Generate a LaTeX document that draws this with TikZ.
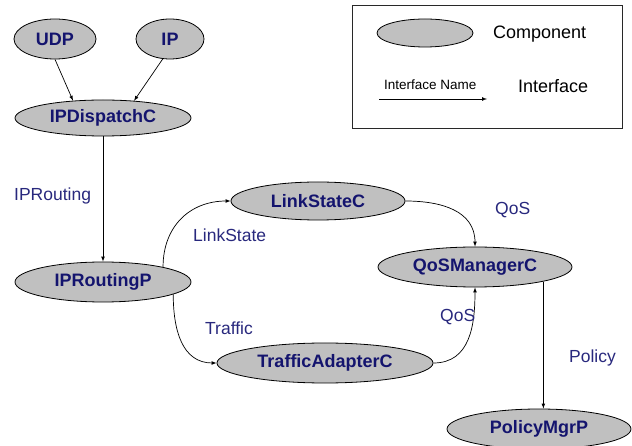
\documentclass[tikz,border=0pt]{standalone}
\usepackage{fontspec}
\setmainfont{Liberation Sans}
\usetikzlibrary{shapes}
\definecolor{compblue}{RGB}{20,20,110}
\definecolor{labelblue}{RGB}{40,40,125}
\definecolor{compgray}{RGB}{192,192,192}

\begin{document}
\begin{tikzpicture}[x=1pt,y=1pt,yscale=-1,xscale=1,
  comp/.style={ellipse,draw,fill=compgray,line width=0.8pt,inner sep=0pt,font=\fontsize{18}{20}\selectfont\bfseries,text=compblue},
  ilabel/.style={anchor=mid west,inner sep=0pt,font=\fontsize{17.5}{20}\selectfont,text=labelblue},
  ilink/.style={-latex,line width=0.7pt}]
\useasboundingbox (0,0) rectangle (632,446);

%Shape: Ellipse
\node [comp,minimum width=82pt,minimum height=40pt] (udp) at (55,39) {UDP};
%Shape: Ellipse
\node [comp,minimum width=68pt,minimum height=40pt] (ip) at (170,39) {IP};
%Shape: Ellipse
\node [comp,minimum width=176pt,minimum height=36pt] (disp) at (103,118) {IPDispatchC};
%Shape: Ellipse
\node [comp,minimum width=176pt,minimum height=40pt] (iprout) at (103,282) {IPRoutingP};
%Shape: Ellipse
\node [comp,minimum width=174pt,minimum height=38pt] (link) at (318,201) {LinkStateC};
%Shape: Ellipse
\node [comp,minimum width=194pt,minimum height=40pt] (qos) at (475,267) {QoSManagerC};
%Shape: Ellipse
\node [comp,minimum width=216pt,minimum height=40pt] (traffic) at (325,363) {TrafficAdapterC};
%Shape: Ellipse
\node [comp,minimum width=184pt,minimum height=40pt] (policy) at (539,429) {PolicyMgrP};

%Straight Lines
\draw [ilink] (udp.south) -- (disp.150);
\draw [ilink] (ip.250) -- (disp.29);
\draw [ilink] (disp.south) -- (iprout.north);
\draw [ilink] (qos.-12.6) -- (qos.-12.6 |- policy.north);
%Curve Lines (y axis is flipped, so up is -90)
\draw [ilink] (iprout.14) to[out=-90,in=180,looseness=1.1] (link.west);
\draw [ilink] (iprout.-10) to[out=90,in=180,looseness=1.1] (traffic.west);
\draw [ilink] (link.east) to[out=0,in=-90,looseness=1.1] (qos.north);
\draw [ilink] (traffic.east) to[out=0,in=90,looseness=1.1] (qos.south);

% Text Node
\node [ilabel] (lbroute) at (14,198) {IPRouting};
% Text Node
\node [ilabel] (lblink) at (193,239) {LinkState};
% Text Node
\node [ilabel] (lbqosa) at (495,212) {QoS};
% Text Node
\node [ilabel] (lbtraffic) at (205,332) {Traffic};
% Text Node
\node [ilabel] (lbqosb) at (440,319) {QoS};
% Text Node
\node [ilabel] (lbpolicy) at (569,360) {Policy};

%Shape: Rectangle
\draw [line width=0.8pt,color={rgb,255:red,40;green,40;blue,40}] (352,5) rectangle (622,128);
%Shape: Ellipse
\node [ellipse,draw,fill=compgray,line width=0.8pt,minimum width=96pt,minimum height=28pt,inner sep=0pt] (legcomp) at (425,33) {};
% Text Node
\node [anchor=mid west,inner sep=0pt,font=\fontsize{18}{20}\selectfont] (legcomptext) at (493,36) {Component};
\coordinate (legfrom) at (379,99);
\coordinate (legto) at (487,99);
\draw [ilink] (legfrom) -- (legto);
% Text Node
\node [anchor=mid west,inner sep=0pt,font=\fontsize{13.5}{15}\selectfont] (legname) at (384,87) {Interface Name};
% Text Node
\node [anchor=mid west,inner sep=0pt,font=\fontsize{18}{20}\selectfont] (legiface) at (518,90) {Interface};

\end{tikzpicture}
\end{document}
